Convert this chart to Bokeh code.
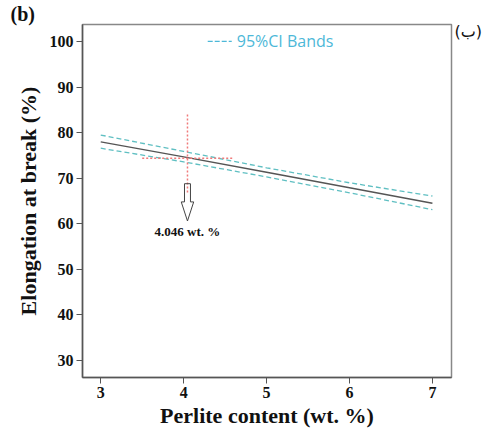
from bokeh.plotting import figure
from bokeh.models import Label, Range1d, FixedTicker, Title, LinearAxis
from bokeh.embed import file_html
from bokeh.resources import INLINE

# data
perlite = [3, 4, 5, 6, 7]
elong_fit = [78.0, 74.7, 71.3, 67.9, 64.5]
ci_upper = [79.5, 75.9, 72.3, 69.0, 66.1]
ci_lower = [76.6, 73.6, 70.3, 66.8, 63.1]
opt_x = 4.046
opt_y = 74.4
x_ticks = [3, 4, 5, 6, 7]
y_ticks = [30, 40, 50, 60, 70, 80, 90, 100]
panel_tag_y = 102.3

SERIF = "Liberation Serif"

p = figure(width=487, height=432, output_backend="svg", toolbar_location=None,
           x_range=Range1d(2.78, 7.23), y_range=Range1d(26.2, 103.8),
           min_border_left=82, min_border_right=36, min_border_top=20, min_border_bottom=55)
p.grid.visible = False
p.outline_line_color = "#888888"
p.outline_line_width = 1.5

for ax in (p.xaxis[0], p.yaxis[0]):
    ax.axis_line_color = "#555555"
    ax.axis_line_width = 1.5
    ax.major_tick_line_color = "#555555"
    ax.major_tick_in = 0
    ax.major_tick_out = 6
    ax.minor_tick_line_color = None
    ax.major_label_text_font = SERIF
    ax.major_label_text_font_style = "bold"
    ax.major_label_text_font_size = "16px"
    ax.major_label_text_color = "#111111"
    ax.axis_label_text_font = SERIF
    ax.axis_label_text_font_style = "bold"
    ax.axis_label_text_color = "#111111"

p.xaxis.ticker = FixedTicker(ticks=x_ticks)
p.yaxis.ticker = FixedTicker(ticks=y_ticks)
p.xaxis.axis_label = "Perlite content (wt. %)"
p.xaxis.axis_label_text_font_size = "22px"
p.xaxis.axis_label_standoff = 2
p.xaxis.major_label_standoff = 3
p.yaxis.axis_label = "Elongation at break (%)"
p.yaxis.axis_label_text_font_size = "22px"
p.yaxis.axis_label_standoff = 6
p.yaxis.major_label_standoff = 3

band_color = "#5fbfc2"
p.line(perlite, ci_upper, line_color=band_color, line_width=1.3, line_dash="5 3")
p.line(perlite, ci_lower, line_color=band_color, line_width=1.3, line_dash="5 3")
p.line(perlite, elong_fit, line_color="#555555", line_width=1.5)

red = "#f07a7a"
p.line([opt_x, opt_x], [84.0, 66.8], line_color=red, line_width=1.5, line_dash="2 2")
p.line([3.5, 4.59], [opt_y, opt_y], line_color=red, line_width=1.5, line_dash="2 2")

# hollow block arrow pointing down
sw, hw = 0.036, 0.075
p.patch([opt_x - sw, opt_x + sw, opt_x + sw, opt_x + hw, opt_x, opt_x - hw, opt_x - sw],
        [68.8, 68.8, 64.8, 64.8, 60.6, 64.8, 64.8],
        fill_color="white", fill_alpha=0.0, line_color="#444444", line_width=1)

p.add_layout(Label(x=opt_x, y=58.4, text="4.046 wt. %", text_font=SERIF,
                   text_font_style="bold", text_font_size="13px", text_color="#111111",
                   text_align="center", text_baseline="middle"))

# legend
p.line([4.29, 4.58], [100.1, 100.1], line_color="#4db8d8", line_width=1.4, line_dash="5 2")
p.add_layout(Label(x=4.64, y=100.1, text="95%CI Bands", text_font="Open Sans",
                   text_font_size="16px", text_color="#4db8d8",
                   text_align="left", text_baseline="middle"))

# panel tags
p.add_layout(Title(text="(b)", align="left", offset=-72, standoff=0,
                   text_font=SERIF, text_font_style="bold", text_font_size="20px",
                   text_color="#111111"), "above")
tag_axis = LinearAxis(ticker=FixedTicker(ticks=[panel_tag_y]),
                      major_label_overrides={panel_tag_y: "(ب)"})
tag_axis.axis_line_color = None
tag_axis.major_tick_line_color = None
tag_axis.minor_tick_line_color = None
tag_axis.major_tick_out = 0
tag_axis.major_tick_in = 0
tag_axis.major_label_standoff = 3
tag_axis.major_label_text_font = "DejaVu Sans"
tag_axis.major_label_text_font_size = "16px"
tag_axis.major_label_text_color = "#111111"
p.add_layout(tag_axis, "right")

open("out.html", "w").write(file_html(p, INLINE))
